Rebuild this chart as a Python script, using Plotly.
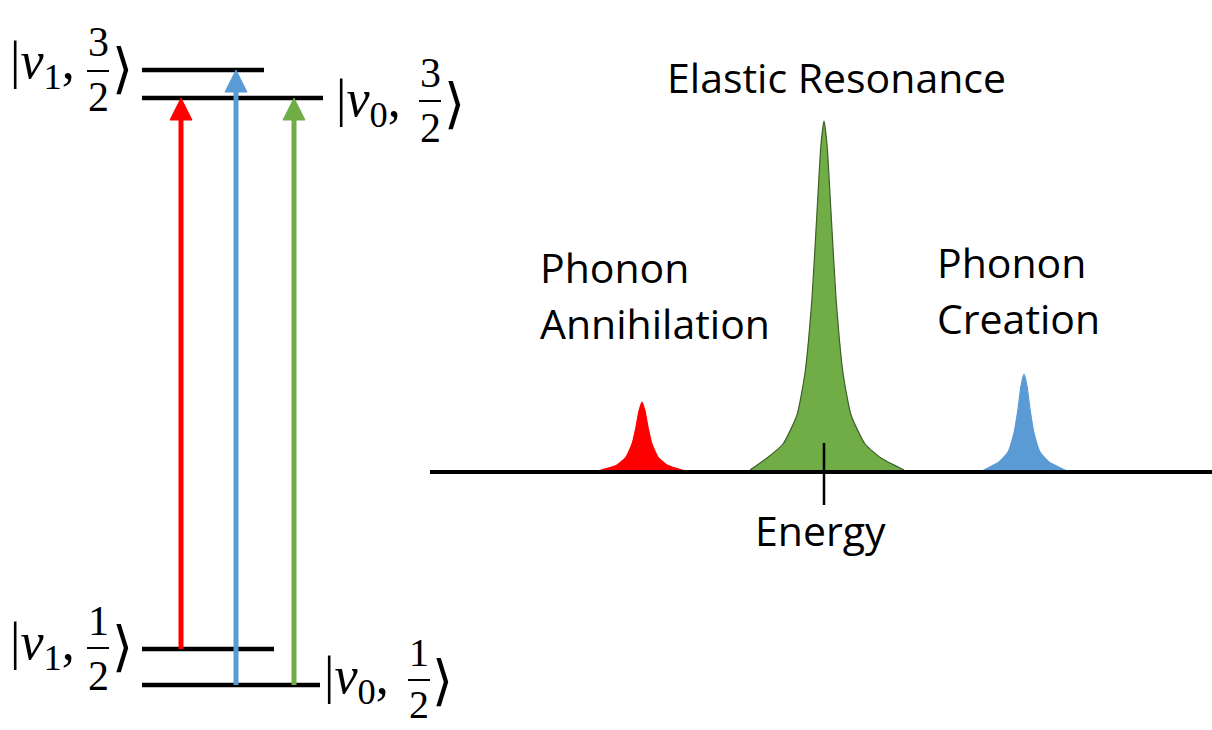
import plotly.graph_objects as go

# ---------------- data ----------------
# energy levels (pixel-space diagram coordinates)
level_names = ["v1_3/2", "v0_3/2", "v1_1/2", "v0_1/2"]
level_y = [70, 98, 649, 685]
level_x0 = [142, 142, 142, 142]
level_x1 = [264, 323, 274, 320]

# transitions (arrows)
arrow_x = [181, 236, 294]
arrow_from = [649, 685, 685]
arrow_to = [98, 70, 98]
arrow_colors = ["#FF0000", "#5B9BD5", "#70AD47"]

# spectrum peaks: centre, profile offsets and profile heights
peak_names = ["Phonon Annihilation", "Elastic Resonance", "Phonon Creation"]
peak_centers = [642, 824, 1024]
red_dx = [-44, -25, -16, -10, -6, -3, 0, 3, 6, 10, 16, 25, 43]
red_y = [471, 465, 457, 444, 427, 411, 402, 411, 427, 444, 457, 465, 471]
green_dx = [-74, -57, -41, -27, -19, -12, -7, -3, 0, 3, 7, 12, 19, 27, 41, 57, 80]
green_y = [470, 458, 444, 415, 373, 298, 212, 144, 121, 144, 212, 298, 373, 415, 444, 458, 470]
blue_dx = [-42, -25, -16, -10, -6, -3, 0, 3, 6, 10, 16, 25, 43]
blue_y = [471, 462, 452, 433, 409, 386, 374, 386, 409, 433, 452, 462, 471]
peak_fill = ["#FF0000", "#70AD47", "#5B9BD5"]
peak_line = ["#FF0000", "#3E5F27", "#5B9BD5"]

axis_x = [430, 1212]
axis_y = 472
tick_x = 824
tick_y = [443, 505]

# ---------------- figure ----------------
fig = go.Figure()

# level lines
for x0, x1, y in zip(level_x0, level_x1, level_y):
    fig.add_trace(go.Scatter(x=[x0, x1], y=[y, y], mode="lines",
                             line=dict(color="black", width=4.5), hoverinfo="skip"))

# arrows: shafts + heads
head_len = 22
head_half = 11
for x, y0, y1, c in zip(arrow_x, arrow_from, arrow_to, arrow_colors):
    fig.add_trace(go.Scatter(x=[x, x], y=[y0, y1 + head_len - 2], mode="lines",
                             line=dict(color=c, width=5), hoverinfo="skip"))
    fig.add_trace(go.Scatter(x=[x - head_half, x + head_half, x, x - head_half],
                             y=[y1 + head_len, y1 + head_len, y1, y1 + head_len],
                             mode="lines", fill="toself", fillcolor=c,
                             line=dict(color=c, width=1), hoverinfo="skip"))

# peaks
for cx, dxs, ys, fc, lc in zip(peak_centers, [red_dx, green_dx, blue_dx],
                               [red_y, green_y, blue_y], peak_fill, peak_line):
    fig.add_trace(go.Scatter(x=[cx + d for d in dxs], y=ys, mode="lines",
                             fill="toself", fillcolor=fc,
                             line=dict(color=lc, width=1.2, shape="spline", smoothing=0.5),
                             hoverinfo="skip"))

# energy axis
fig.add_trace(go.Scatter(x=axis_x, y=[axis_y, axis_y], mode="lines",
                         line=dict(color="black", width=4), hoverinfo="skip"))
fig.add_trace(go.Scatter(x=[tick_x, tick_x], y=tick_y, mode="lines",
                         line=dict(color="black", width=2.5), hoverinfo="skip"))

# ---------------- ket labels ----------------
serif = "Liberation Serif"
kets = [
    # (prefix, prefix_x_left, prefix_y, num, den, frac_x, frac_y, frac_size, bar_y, bracket_x, bracket_y)
    ("|<i>v</i><sub>1</sub>,", 8, 64, "3", "2", 98, 69, 42, 71, 122, 68),
    ("|<i>v</i><sub>0</sub>,", 334, 102, "3", "2", 430, 100, 42, 101, 454, 103),
    ("|<i>v</i><sub>1</sub>,", 8, 645, "1", "2", 98, 648, 42, 648, 122, 646),
    ("|<i>v</i><sub>0</sub>,", 322, 679, "1", "2", 419, 678, 40, 680, 442, 680),
]
anns = []
shapes = []
for pre, px, py, num, den, fx, fy, fs, by, bx, bry in kets:
    anns.append(dict(x=px, y=py, text=pre, xanchor="left", yanchor="middle", showarrow=False,
                     font=dict(family=serif, size=52, color="black")))
    anns.append(dict(x=fx, y=fy, text=num + "<br>" + den, xanchor="center", yanchor="middle",
                     showarrow=False, font=dict(family=serif, size=fs, color="black")))
    anns.append(dict(x=bx, y=bry, text="⟩", xanchor="center", yanchor="middle", showarrow=False,
                     font=dict(family="DejaVu Serif", size=54, color="black")))
    shapes.append(dict(type="line", x0=fx - 11, x1=fx + 11, y0=by, y1=by, xref="x", yref="y",
                       line=dict(color="black", width=2)))

sans = "Open Sans"
text_items = [
    ("Elastic Resonance", 836, 77, "center"),
    ("Phonon", 538, 267, "left"),
    ("Annihilation", 538, 323, "left"),
    ("Phonon", 935, 262, "left"),
    ("Creation", 935, 318, "left"),
    ("Energy", 820, 530, "center"),
]
for t, x, y, xa in text_items:
    anns.append(dict(x=x, y=y, text=t, xanchor=xa, yanchor="middle", showarrow=False,
                     font=dict(family=sans, size=41, color="black")))

fig.update_layout(
    width=1212, height=730, margin=dict(l=0, r=0, t=0, b=0),
    paper_bgcolor="white", plot_bgcolor="white", showlegend=False,
    xaxis=dict(range=[0, 1212], visible=False, fixedrange=True),
    yaxis=dict(range=[730, 0], visible=False, fixedrange=True),
    annotations=anns, shapes=shapes,
)

fig.write_html("out.html", config={"displayModeBar": False},
               post_script="document.body.style.margin='0';document.body.style.overflow='hidden';")
